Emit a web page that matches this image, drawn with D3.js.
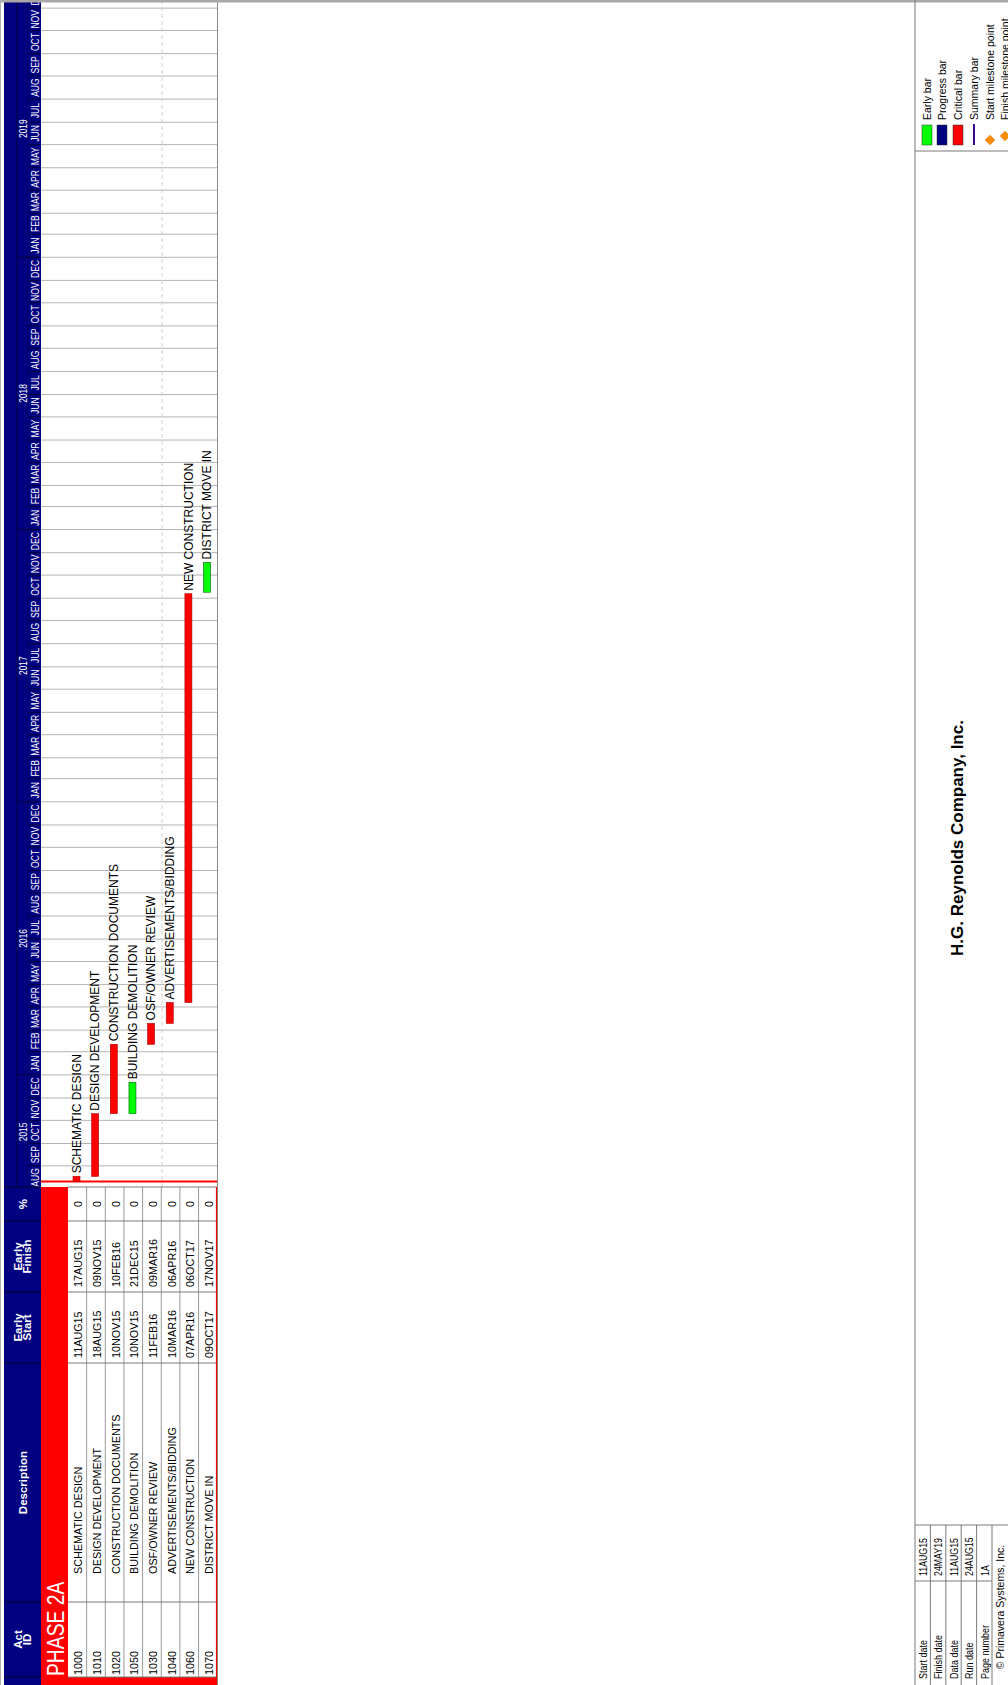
<!DOCTYPE html>
<html>
<head>
<meta charset="utf-8">
<script src="https://cdn.jsdelivr.net/npm/d3@7"></script>
<style>
  html, body { margin: 0; padding: 0; background: #fff; }
  svg { display: block; font-family: "Liberation Sans", Arial, Helvetica, sans-serif; }
</style>
</head>
<body>
<svg id="chart" width="1008" height="1685"></svg>
<script>
// ---- Schedule data ----
const actIds = ["1000", "1010", "1020", "1050", "1030", "1040", "1060", "1070"];
const descriptions = [
  "SCHEMATIC DESIGN", "DESIGN DEVELOPMENT", "CONSTRUCTION DOCUMENTS", "BUILDING DEMOLITION",
  "OSF/OWNER REVIEW", "ADVERTISEMENTS/BIDDING", "NEW CONSTRUCTION", "DISTRICT MOVE IN"
];
const earlyStart  = ["11AUG15", "18AUG15", "10NOV15", "10NOV15", "11FEB16", "10MAR16", "07APR16", "09OCT17"];
const earlyFinish = ["17AUG15", "09NOV15", "10FEB16", "21DEC15", "09MAR16", "06APR16", "06OCT17", "17NOV17"];
const pctComplete = [0, 0, 0, 0, 0, 0, 0, 0];
const isCritical  = [true, true, true, false, true, true, true, false];
const groupName = "PHASE 2A";
const dataDate = "11AUG15";

// ---- Axis labels ----
const monthNames = ["JAN", "FEB", "MAR", "APR", "MAY", "JUN", "JUL", "AUG", "SEP", "OCT", "NOV", "DEC"];
const headerLabels = [["Act", "ID"], ["Description"], ["Early", "Start"], ["Early", "Finish"], ["%"]];

// ---- Legend and title block ----
const legendLabels = ["Early bar", "Progress bar", "Critical bar", "Summary bar", "Start milestone point", "Finish milestone point"];
const companyName = "H.G. Reynolds Company, Inc.";
const infoLabels = ["Start date", "Finish date", "Data date", "Run date", "Page number"];
const infoValues = ["11AUG15", "24MAY19", "11AUG15", "24AUG15", "1A"];
const copyright = "\u00A9 Primavera Systems, Inc.";

// ---- Page layout (landscape page turned onto a portrait sheet) ----
const PAGE_W = 1685, PAGE_H = 1008;
const NAVY = "#000080", RED = "#ff0000", GREEN = "#00ff00";
const colEdges = [8, 83, 322, 393, 464, 498];
const TL0 = 498, TL1 = PAGE_W;           // visible span of the timeline
const HEAD0 = 4, YEAR0 = 17, MONTH0 = 28, HEAD1 = 41, BAND1 = 68, BODY1 = 217.2;

const parseDay = d3.timeParse("%d%b%y");
const x = d3.scaleTime()
  .domain([new Date(2015, 7, 1), new Date(2020, 0, 1)])
  .range([496, 1700]);
const rows = d3.scaleBand().domain(actIds).range([BAND1, BODY1]);

const svg = d3.select("#chart");
const page = svg.append("g").attr("transform", `translate(0,${PAGE_W}) rotate(-90)`);

const tasks = actIds.map((id, i) => ({
  id, desc: descriptions[i],
  es: earlyStart[i], ef: earlyFinish[i], pct: pctComplete[i],
  start: parseDay(earlyStart[i]),
  end: d3.timeDay.offset(parseDay(earlyFinish[i]), 1),
  critical: isCritical[i]
}));

// ---- Header band ----
page.append("rect").attr("x", 0).attr("y", HEAD0).attr("width", PAGE_W).attr("height", HEAD1 - HEAD0).attr("fill", NAVY);

// ---- Timeline body grid ----
const tl = page.append("g");
const tlStart = x.domain()[0], tlEnd = x.domain()[1];
const months = d3.timeMonth.range(tlStart, tlEnd);
const inside = m => x(m) > TL0 + 1 && x(m) <= TL1;

tl.selectAll("line.month").data(months.filter(inside)).join("line")
  .attr("x1", d => x(d)).attr("x2", d => x(d))
  .attr("y1", HEAD1).attr("y2", BODY1)
  .attr("stroke", "#b4b4b4").attr("stroke-width", 1);

tl.append("line")
  .attr("x1", TL0).attr("x2", TL1).attr("y1", 162).attr("y2", 162)
  .attr("stroke", "#cfcfcf").attr("stroke-width", 1).attr("stroke-dasharray", "4,3");

// ---- Timeline header: years and months ----
const th = page.append("g");
th.append("line").attr("x1", TL0).attr("x2", TL1).attr("y1", YEAR0).attr("y2", YEAR0)
  .attr("stroke", "#00003a").attr("stroke-width", 1);
th.append("line").attr("x1", TL0).attr("x2", TL1).attr("y1", MONTH0).attr("y2", MONTH0)
  .attr("stroke", "#00005a").attr("stroke-width", 0.6);

th.selectAll("line.mt").data(months.filter(inside)).join("line")
  .attr("x1", d => x(d)).attr("x2", d => x(d))
  .attr("y1", d => d.getMonth() === 0 ? YEAR0 : MONTH0).attr("y2", HEAD1)
  .attr("stroke", "#00003a").attr("stroke-width", 1);

th.selectAll("text.month").data(months).join("text")
  .attr("transform", d => {
    const c = (x(d) + x(d3.timeMonth.offset(d, 1))) / 2;
    return `translate(${c},${(MONTH0 + HEAD1) / 2 + 0.5}) scale(0.78,1)`;
  })
  .attr("text-anchor", "middle").attr("dominant-baseline", "central")
  .attr("font-size", 11).attr("fill", "#fff")
  .text(d => monthNames[d.getMonth()]);

const visEnd = x.invert(TL1);
const years = d3.timeYear.range(d3.timeYear.floor(tlStart), tlEnd);
th.selectAll("text.year").data(years).join("text")
  .attr("transform", d => {
    const a = d < tlStart ? tlStart : d;
    const nx = d3.timeYear.offset(d, 1);
    const b = nx > visEnd ? visEnd : nx;
    return `translate(${(x(a) + x(b)) / 2},${(YEAR0 + MONTH0) / 2 + 0.5}) scale(0.8,1)`;
  })
  .attr("text-anchor", "middle").attr("dominant-baseline", "central")
  .attr("font-size", 10.5).attr("fill", "#fff")
  .text(d => d.getFullYear());

// ---- Data date line ----
page.append("line")
  .attr("x1", x(parseDay(dataDate))).attr("x2", x(parseDay(dataDate)))
  .attr("y1", HEAD1).attr("y2", BODY1)
  .attr("stroke", RED).attr("stroke-width", 2);

// ---- Activity bars and labels ----
const bars = page.append("g");
bars.selectAll("rect").data(tasks).join("rect")
  .attr("x", d => x(d.start)).attr("width", d => x(d.end) - x(d.start))
  .attr("y", d => rows(d.id) + 5).attr("height", 7)
  .attr("fill", d => d.critical ? RED : GREEN)
  .attr("stroke", d => d.critical ? "#b00000" : "#006000").attr("stroke-width", 0.6);

bars.selectAll("text").data(tasks).join("text")
  .attr("x", d => x(d.end) + 3).attr("y", d => rows(d.id) + 8.7)
  .attr("dominant-baseline", "central").attr("font-size", 12).attr("fill", "#000")
  .text(d => d.desc);

// ---- Activity table ----
const tb = page.append("g");
tb.append("rect").attr("x", 0).attr("y", HEAD1).attr("width", TL0).attr("height", BAND1 - HEAD1).attr("fill", RED);
tb.append("rect").attr("x", 0).attr("y", BAND1).attr("width", colEdges[0]).attr("height", BODY1 - BAND1).attr("fill", RED);
tb.append("rect").attr("x", colEdges[0]).attr("y", BAND1).attr("width", TL0 - colEdges[0]).attr("height", BODY1 - BAND1).attr("fill", "#fff");

tb.selectAll("line.row").data(actIds.slice(1)).join("line")
  .attr("x1", colEdges[0]).attr("x2", TL0)
  .attr("y1", d => rows(d)).attr("y2", d => rows(d))
  .attr("stroke", "#9a9a9a").attr("stroke-width", 1);
tb.selectAll("line.col").data(colEdges).join("line")
  .attr("x1", d => d).attr("x2", d => d)
  .attr("y1", BAND1).attr("y2", BODY1)
  .attr("stroke", "#7a7a7a").attr("stroke-width", 1);
tb.append("line").attr("x1", 0).attr("x2", TL0).attr("y1", BODY1 - 0.6).attr("y2", BODY1 - 0.6)
  .attr("stroke", RED).attr("stroke-width", 1.4);

// header captions and separators
tb.selectAll("line.hcol").data(colEdges).join("line")
  .attr("x1", d => d).attr("x2", d => d).attr("y1", HEAD0).attr("y2", HEAD1)
  .attr("stroke", "#00002a").attr("stroke-width", 1);
headerLabels.forEach((lines, i) => {
  const cx = (colEdges[i] + colEdges[i + 1]) / 2;
  const t = tb.append("text").attr("text-anchor", "middle").attr("font-size", 11.5)
    .attr("font-weight", "bold").attr("fill", "#fff");
  lines.forEach((s, k) => {
    const cy = lines.length === 1 ? 22.5 : (k === 0 ? 17.5 : 26.5);
    t.append("tspan").attr("x", cx).attr("y", cy).attr("dominant-baseline", "central").text(s);
  });
});

tb.append("text")
  .attr("transform", `translate(${colEdges[0] + 1},${(HEAD1 + BAND1) / 2 + 1}) scale(0.84,1)`)
  .attr("dominant-baseline", "central").attr("font-size", 23).attr("fill", "#fff")
  .text(groupName);

const cellY = d => rows(d.id) + rows.bandwidth() / 2 + 1;
const cells = [
  { x: colEdges[0] + 2, f: d => d.id },
  { x: 111, f: d => d.desc },
  { x: colEdges[2] + 5, f: d => d.es },
  { x: colEdges[3] + 5, f: d => d.ef },
  { x: (colEdges[4] + colEdges[5]) / 2, f: d => d.pct, anchor: "middle" }
];
cells.forEach(c => {
  tb.selectAll(null).data(tasks).join("text")
    .attr("x", c.x).attr("y", cellY)
    .attr("text-anchor", c.anchor || "start").attr("dominant-baseline", "central")
    .attr("font-size", 10.8).attr("fill", "#000")
    .text(c.f);
});

// right edge of the schedule area
page.append("line").attr("x1", 0).attr("x2", PAGE_W).attr("y1", BODY1 + 0.3).attr("y2", BODY1 + 0.3)
  .attr("stroke", "#8a8a8a").attr("stroke-width", 1);

// ---- Page frame ----
page.append("line").attr("x1", PAGE_W - 1).attr("x2", PAGE_W - 1).attr("y1", 0).attr("y2", PAGE_H)
  .attr("stroke", "#a8a8a8").attr("stroke-width", 3);
page.append("line").attr("x1", 0).attr("x2", PAGE_W).attr("y1", 0.5).attr("y2", 0.5)
  .attr("stroke", "#b0b0b0").attr("stroke-width", 1);

// ---- Footer: legend, company name, project info ----
const FOOT0 = 915;
const ft = page.append("g");
ft.append("line").attr("x1", 0).attr("x2", PAGE_W).attr("y1", FOOT0).attr("y2", FOOT0)
  .attr("stroke", "#7a7a7a").attr("stroke-width", 1);
ft.append("line").attr("x1", 1534).attr("x2", 1534).attr("y1", FOOT0).attr("y2", PAGE_H)
  .attr("stroke", "#7a7a7a").attr("stroke-width", 1);
ft.append("line").attr("x1", 160).attr("x2", 160).attr("y1", FOOT0).attr("y2", PAGE_H)
  .attr("stroke", "#7a7a7a").attr("stroke-width", 1);

// legend
const legendRows = [927, 942, 958, 974, 990, 1005];
const swatchFill = [GREEN, NAVY, RED];
swatchFill.forEach((c, i) => {
  ft.append("rect").attr("x", 1540).attr("y", legendRows[i] - 5).attr("width", 20).attr("height", 10)
    .attr("fill", c).attr("stroke", "#333").attr("stroke-width", 0.5);
});
ft.append("rect").attr("x", 1540).attr("y", legendRows[3] - 1).attr("width", 21).attr("height", 2).attr("fill", "#3a0a8a");
const diamond = d3.symbol().type(d3.symbolDiamond2).size(60);
ft.append("path").attr("d", diamond()).attr("transform", `translate(1545,${legendRows[4]})`)
  .attr("fill", "#ff8c00").attr("stroke", "#c06000").attr("stroke-width", 0.5);
ft.append("path").attr("d", diamond()).attr("transform", `translate(1549,${legendRows[5]})`)
  .attr("fill", "#ff8c00").attr("stroke", "#c06000").attr("stroke-width", 0.5);
ft.selectAll("text.legend").data(legendLabels).join("text")
  .attr("x", 1565).attr("y", (d, i) => legendRows[i])
  .attr("dominant-baseline", "central").attr("font-size", 10.5).attr("fill", "#000")
  .text(d => d);

// company name
ft.append("text").attr("x", (160 + 1534) / 2).attr("y", 957)
  .attr("text-anchor", "middle").attr("dominant-baseline", "central")
  .attr("font-size", 17).attr("font-weight", "bold").attr("fill", "#000")
  .text(companyName);

// project info grid
const INFO_SPLIT = 104;
const infoRows = d3.scaleBand().domain(infoLabels).range([FOOT0, 992]);
ft.selectAll("line.info").data(infoLabels.slice(1).concat(["end"])).join("line")
  .attr("x1", 0).attr("x2", 160)
  .attr("y1", d => d === "end" ? 992 : infoRows(d)).attr("y2", d => d === "end" ? 992 : infoRows(d))
  .attr("stroke", "#7a7a7a").attr("stroke-width", 1);
ft.append("line").attr("x1", INFO_SPLIT).attr("x2", INFO_SPLIT).attr("y1", FOOT0).attr("y2", 992)
  .attr("stroke", "#7a7a7a").attr("stroke-width", 1);
infoLabels.forEach((s, i) => {
  const cy = infoRows(s) + infoRows.bandwidth() / 2 + 0.5;
  ft.append("text").attr("transform", `translate(6,${cy}) scale(0.82,1)`)
    .attr("dominant-baseline", "central").attr("font-size", 11).text(s);
  ft.append("text").attr("transform", `translate(${INFO_SPLIT + 5},${cy}) scale(0.8,1)`)
    .attr("dominant-baseline", "central").attr("font-size", 11).text(infoValues[i]);
});
ft.append("text").attr("x", 78).attr("y", 1000).attr("text-anchor", "middle")
  .attr("dominant-baseline", "central").attr("font-size", 10.5).text(copyright);
</script>
</body>
</html>
